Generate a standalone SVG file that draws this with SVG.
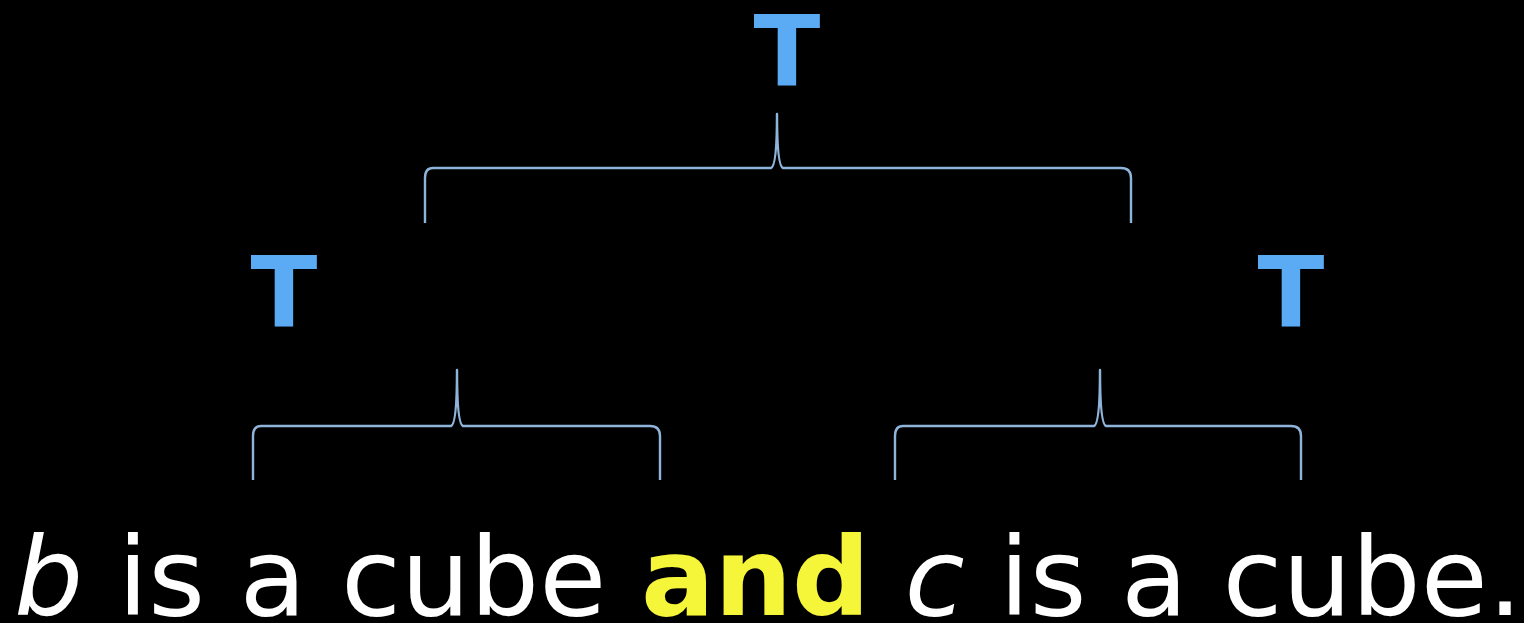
<svg xmlns="http://www.w3.org/2000/svg" width="1524" height="623" viewBox="0 0 1524 623">
<style>
.t{font-family:"DejaVu Sans",sans-serif;font-weight:bold;font-size:98px;fill:#5aaaf4;text-anchor:middle}
.br{fill:none;stroke:#8fb4da;stroke-width:2.4;stroke-linejoin:round}
.s{font-family:"DejaVu Sans",sans-serif;font-size:109px;fill:#ffffff}
</style>
<rect width="1524" height="623" fill="#000000"/>
<g id="connectors">
<path class="br" d="M425,223 L425,178 Q425,168 433,168 L771,168 Q777,166 777,114 Q777,166 783,168 L1121,168 Q1131,168 1131,178 L1131,223"/>
<path class="br" d="M253,480 L253,436 Q253,426 261,426 L451,426 Q457,424 457,370 Q457,424 463,426 L650,426 Q660,426 660,436 L660,480"/>
<path class="br" d="M895,480 L895,436 Q895,426 903,426 L1094,426 Q1100,424 1100,370 Q1100,424 1106,426 L1291,426 Q1301,426 1301,436 L1301,480"/>
</g>
<g id="node-top"><text class="t" x="787" y="86">T</text></g>
<g id="node-left"><text class="t" x="284" y="327">T</text></g>
<g id="node-right"><text class="t" x="1291" y="327">T</text></g>
<g id="sentence"><text class="s" x="14" y="615"><tspan font-style="italic">b</tspan> is a cube <tspan font-weight="bold" fill="#f5f53a">and</tspan> <tspan font-style="italic">c</tspan> is a cube.</text></g>
</svg>
